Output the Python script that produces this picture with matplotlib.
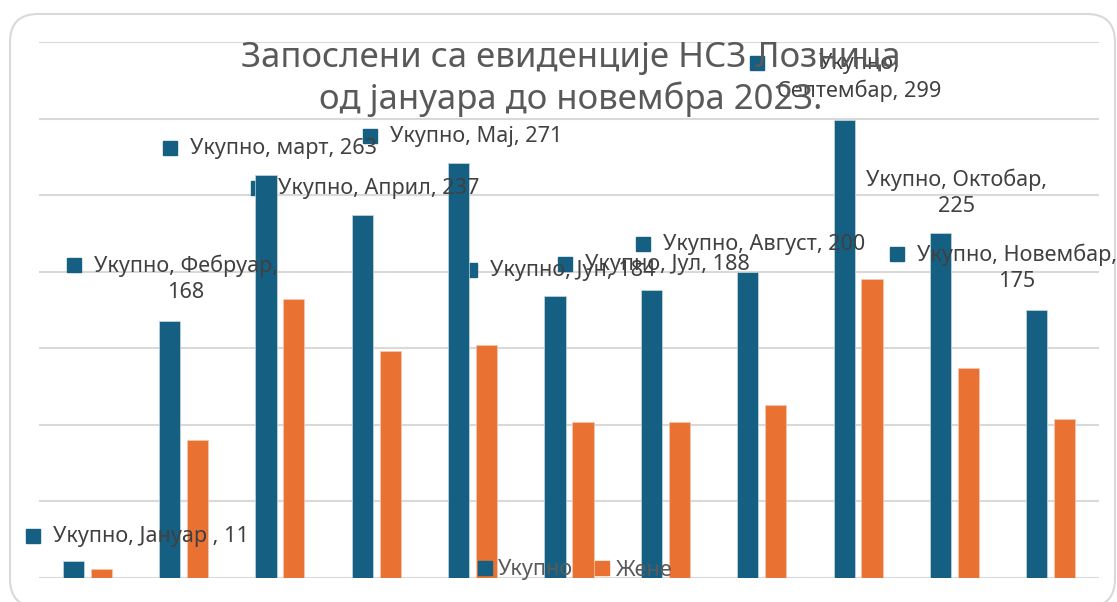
import matplotlib.pyplot as plt
import numpy as np
from matplotlib.patches import FancyBboxPatch, Patch
from matplotlib.transforms import offset_copy

months = ['Јануар ', 'Фебруар', 'март', 'Април', 'Мај', 'Јун', 'Јул',
          'Август', 'Септембар', 'Октобар', 'Новембар']
ukupno = [11, 168, 263, 237, 271, 184, 188, 200, 299, 225, 175]
zene = [6, 90, 182, 148, 152, 102, 102, 113, 195, 137, 104]
series_names = ['Укупно', 'Жене']
title = 'Запослени са евиденције НСЗ Лозница\nод јануара до новембра 2023.'

# where each data label key sits, in pixels from the top of its blue bar
label_dx = [-40, -96, -96, -104, -89, -85, -86, -105, -87, -94, -140]
label_dy = [25, 56, 27, 27, 27, 26, 26, 28, 57, 55, 56]
# how the label wraps: 0 = one line, 1 = value on 2nd line, 2 = break after series name
wrap = [0, 1, 0, 0, 0, 0, 0, 0, 2, 1, 1]

BLUE = '#156082'
ORANGE = '#E97132'
TXT = '#404040'

plt.rcParams['font.family'] = ['Noto Sans', 'DejaVu Sans']

fig = plt.figure(figsize=(11.17, 6.02), dpi=100)
fig.patch.set_facecolor('white')

# rounded chart border
border = FancyBboxPatch((0.10, -0.05), 11.05, 5.93,
                        boxstyle='round,pad=0,rounding_size=0.28',
                        transform=fig.dpi_scale_trans, facecolor='none',
                        edgecolor='#d9d9d9', linewidth=1.5, zorder=-1)
fig.patches.append(border)

ax = fig.add_axes([39 / 1117, 24 / 602, 1060 / 1117, 536 / 602])
ax.set_facecolor('none')

x = np.arange(len(months))
off = 0.145
w = 0.22
ax.bar(x - off, ukupno, w, color=BLUE, edgecolor='#c8d6de', linewidth=0.5, zorder=2)
ax.bar(x + off, zene, w, color=ORANGE, edgecolor='#f6c9ae', linewidth=0.5, zorder=2)

ax.set_xlim(-0.5, len(months) - 0.5)
ax.set_ylim(0, 350)
ax.set_yticks(np.arange(0, 351, 50))
ax.yaxis.grid(True, color='#d9d9d9', linewidth=1.5, zorder=0)
ax.set_axisbelow(True)
ax.set_xticks([])
ax.tick_params(left=False, labelleft=False)
for s in ax.spines.values():
    s.set_visible(False)

# data labels with legend key
for i, (m, v) in enumerate(zip(months, ukupno)):
    dx, dy = label_dx[i], label_dy[i]
    tr_m = offset_copy(ax.transData, fig=fig, x=dx, y=dy, units='dots')
    ax.plot(i - off, v, marker='s', markersize=9.5, color=BLUE,
            transform=tr_m, clip_on=False, zorder=1.5)
    if wrap[i] == 1:
        s = f'{series_names[0]}, {m},\n{v}'
    elif wrap[i] == 2:
        s = f'{series_names[0]},\n{m}, {v}'
    else:
        s = f'{series_names[0]}, {m}, {v}'
    tr_t = offset_copy(ax.transData, fig=fig, x=dx + 20, y=dy + 10, units='dots')
    ax.text(i - off, v, s, transform=tr_t, ha='left', va='top',
            multialignment='center', fontsize=15.6, color=TXT,
            linespacing=1.3, clip_on=False, zorder=3)

fig.text(0.511, 1 - 79 / 602, title, ha='center', va='center',
         multialignment='center', fontsize=25, color='#595959',
         linespacing=1.2, zorder=4)

handles = [Patch(color=BLUE), Patch(color=ORANGE)]
fig.legend(handles, series_names, loc='center', bbox_to_anchor=(575 / 1117, 1 - 570 / 602),
           ncol=2, frameon=False, fontsize=15.6, labelcolor='#595959',
           handlelength=0.65, handleheight=0.65, handletextpad=0.3,
           columnspacing=1.0)

fig.savefig('out.png', dpi=100)
